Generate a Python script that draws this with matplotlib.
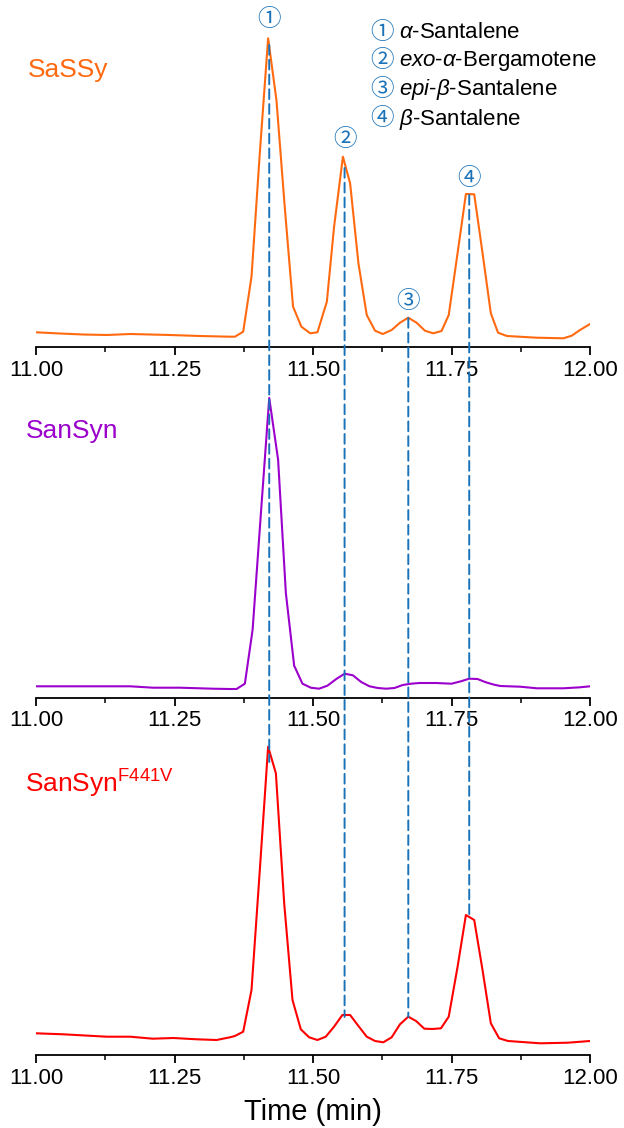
import matplotlib
matplotlib.use("Agg")

import matplotlib.pyplot as plt
from matplotlib.patches import ConnectionPatch
from matplotlib.ticker import MultipleLocator

plt.rcParams['font.family'] = ['Liberation Sans', 'Noto Sans CJK SC', 'DejaVu Sans']
plt.rcParams['mathtext.fontset'] = 'custom'
plt.rcParams['mathtext.rm'] = 'Liberation Sans'
plt.rcParams['mathtext.it'] = 'Liberation Sans:italic'

# =========================================================
# Du lieu doc tu hinh (thoi gian, cuong do tuong doi)
# =========================================================
sassy_t = [11.000, 11.043, 11.085, 11.128, 11.170, 11.242, 11.296, 11.350, 11.359, 11.374,
           11.389, 11.404, 11.419, 11.434, 11.449, 11.464, 11.479, 11.495, 11.508, 11.525,
           11.538, 11.554, 11.567, 11.582, 11.597, 11.612, 11.626, 11.642, 11.657, 11.672,
           11.687, 11.702, 11.717, 11.732, 11.745, 11.761, 11.776, 11.791, 11.806, 11.821,
           11.834, 11.850, 11.904, 11.952, 11.967, 11.982, 12.000]
sassy_y = [14.7, 13.5, 12.5, 12.0, 13.0, 12.0, 11.0, 10.3, 10.3, 15.3,
           70.3, 194.0, 308.7, 247.0, 140.0, 40.3, 20.3, 13.7, 14.7, 45.3,
           120.0, 190.3, 163.7, 83.7, 32.0, 16.3, 13.0, 17.0, 24.3, 29.3,
           24.3, 16.3, 13.7, 16.0, 32.0, 94.0, 153.0, 152.7, 94.0, 33.7,
           14.3, 11.0, 9.3, 8.7, 11.3, 17.0, 23.0]

sansyn_t = [11.000, 11.170, 11.211, 11.260, 11.319, 11.350, 11.362, 11.377, 11.391, 11.406,
            11.421, 11.437, 11.451, 11.466, 11.481, 11.496, 11.511, 11.526, 11.542, 11.557,
            11.572, 11.587, 11.602, 11.617, 11.632, 11.647, 11.662, 11.677, 11.692, 11.722,
            11.750, 11.767, 11.782, 11.797, 11.812, 11.827, 11.838, 11.874, 11.904, 11.952,
            11.982, 12.000]
sansyn_y = [11.7, 11.7, 10.3, 10.3, 9.3, 9.0, 9.0, 14.3, 68.3, 185.0,
            300.0, 238.3, 105.0, 32.3, 14.3, 10.3, 9.3, 12.3, 19.0, 24.3,
            22.7, 16.0, 11.7, 10.0, 9.3, 10.0, 13.0, 14.3, 15.0, 15.0,
            14.3, 16.7, 19.3, 19.0, 15.7, 13.3, 12.0, 11.3, 9.7, 9.7,
            10.7, 11.7]

f441v_t = [11.000, 11.049, 11.128, 11.170, 11.211, 11.248, 11.290, 11.326, 11.350, 11.359,
           11.374, 11.389, 11.404, 11.419, 11.433, 11.448, 11.463, 11.478, 11.493, 11.508,
           11.523, 11.538, 11.553, 11.567, 11.582, 11.597, 11.612, 11.627, 11.642, 11.657,
           11.672, 11.686, 11.701, 11.716, 11.731, 11.745, 11.761, 11.776, 11.791, 11.806,
           11.821, 11.836, 11.852, 11.910, 11.960, 12.000]
f441v_y = [21.7, 20.7, 18.3, 18.3, 16.3, 17.0, 15.7, 15.0, 17.7, 19.0,
           23.3, 65.0, 185.0, 308.3, 281.7, 151.7, 55.0, 25.7, 17.7, 15.0,
           18.3, 28.3, 40.0, 40.0, 29.0, 18.3, 14.0, 12.7, 17.7, 30.7,
           38.3, 34.0, 26.3, 26.0, 26.7, 38.3, 88.3, 140.0, 135.0, 85.0,
           31.7, 16.7, 14.0, 11.7, 12.3, 14.0]

# vi tri 4 dinh va cac dau mut duong net dut (tren panel 1 -> panel 3)
peak_t = [11.421, 11.557, 11.672, 11.782]
peak_marks = ['①', '②', '③', '④']
mark_y = [327, 207, 45, 168]
dash_top = [302, 179, 29, 152]
dash_bottom = [293, 38, 38, 138]
compounds = [r'$\alpha$-Santalene', r'$exo$-$\alpha$-Bergamotene',
             r'$epi$-$\beta$-Santalene', r'$\beta$-Santalene']

traces = [(sassy_t, sassy_y, '#FF6A10'),
          (sansyn_t, sansyn_y, '#9B00CC'),
          (f441v_t, f441v_y, '#FF0000')]

BLUE = '#1A72B8'
W, H = 624, 1128

# =========================================================
# Ve hinh
# =========================================================
fig = plt.figure(figsize=(W / 100, H / 100), dpi=100)

axes_bottom_px = [347, 698, 1055]
AX_H = 330
axes = []
for (t, y, col), b in zip(traces, axes_bottom_px):
    ax = fig.add_axes([36 / W, (H - b) / H, 554 / W, AX_H / H])
    ax.plot(t, y, color=col, lw=1.5)
    ax.set_xlim(11.0, 12.0)
    ax.set_ylim(0, AX_H)
    for s in ['top', 'left', 'right']:
        ax.spines[s].set_visible(False)
    ax.spines['bottom'].set_linewidth(1.3)
    ax.set_yticks([])
    ax.xaxis.set_major_locator(MultipleLocator(0.25))
    ax.xaxis.set_minor_locator(MultipleLocator(0.125))
    ax.xaxis.set_major_formatter(plt.FormatStrFormatter('%.2f'))
    ax.tick_params(axis='x', which='major', direction='out', length=6, width=1.3,
                   labelsize=16, pad=3)
    ax.tick_params(axis='x', which='minor', direction='out', length=3.5, width=1.1)
    ax.patch.set_alpha(0)
    axes.append(ax)

ax1, ax2, ax3 = axes
ax3.set_xlabel('Time (min)', fontsize=21, labelpad=7)

# ten mau
fig.text(28 / W, 1 - 70 / H, 'SaSSy', color='#FF6A10', fontsize=19, va='center')
fig.text(26 / W, 1 - 431 / H, 'SanSyn', color='#9B00CC', fontsize=19, va='center')
fig.text(25 / W, 1 - 784 / H, r'SanSyn$^{\mathrm{F441V}}$', color='#FF0000',
         fontsize=19, va='center')

# so khoanh tron tren dinh
for t, m, yy in zip(peak_t, peak_marks, mark_y):
    ax1.text(t, yy, m, color=BLUE, fontsize=17, ha='center', va='center')

# duong net dut noi cac dinh
for t, y0, y1 in zip(peak_t, dash_top, dash_bottom):
    con = ConnectionPatch(xyA=(t, y0), coordsA=ax1.transData,
                          xyB=(t, y1), coordsB=ax3.transData,
                          color=BLUE, lw=1.4, linestyle=(0, (5, 2.6)), zorder=5)
    fig.add_artist(con)

# chu thich
legend_y = [33, 61, 90, 119]
for m, name, yy in zip(peak_marks, compounds, legend_y):
    fig.text(382 / W, 1 - yy / H, m, color=BLUE, fontsize=17, ha='center', va='center')
    fig.text(399 / W, 1 - yy / H, name, color='black', fontsize=16, ha='left', va='center')

fig.savefig('out.png', dpi=100)
